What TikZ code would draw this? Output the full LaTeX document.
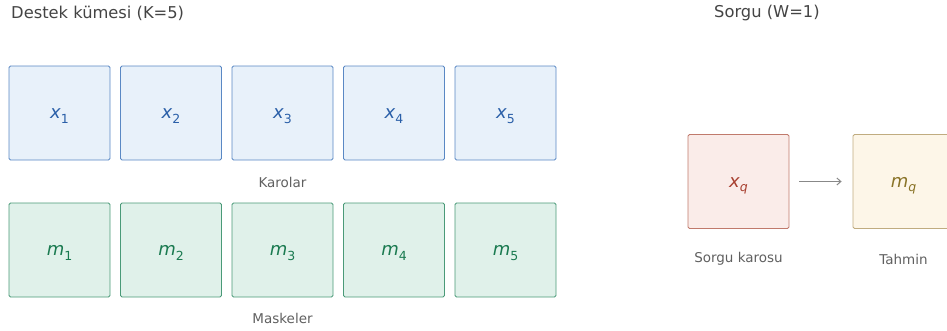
\documentclass[tikz,border=0pt]{standalone}
\usepackage{fontspec}
\setmainfont{DejaVu Sans}
\newfontfamily\obl{DejaVu Sans Oblique}
\usetikzlibrary{arrows.meta}
\definecolor{bfill}{HTML}{E8F1FA}
\definecolor{bdraw}{HTML}{5A88C4}
\definecolor{btext}{HTML}{2A5FA8}
\definecolor{gfill}{HTML}{E0F1EA}
\definecolor{gdraw}{HTML}{4A9A78}
\definecolor{gtext}{HTML}{1A7A50}
\definecolor{rfill}{HTML}{FAECE9}
\definecolor{rdraw}{HTML}{C07A6C}
\definecolor{rtext}{HTML}{A84030}
\definecolor{yfill}{HTML}{FDF6E8}
\definecolor{ydraw}{HTML}{C0AC80}
\definecolor{ytext}{HTML}{8A7428}
\definecolor{lbl}{HTML}{606060}
\definecolor{ttl}{HTML}{444444}
\definecolor{arr}{HTML}{888888}
\newcommand{\tilelab}[2]{\smash{\raisebox{-5.5pt}{{\obl #1}\raisebox{-0.25em}{\fontsize{12.5}{13}\selectfont #2}}}}
\begin{document}
\begin{tikzpicture}[x=1pt,y=-1pt,
  tile/.style={rounded corners=1.5pt,line width=0.8pt,minimum width=101pt,minimum height=94pt,inner sep=0pt,font=\fontsize{18}{18}\selectfont},
  xt/.style={tile,draw=bdraw,fill=bfill,text=btext},
  mt/.style={tile,draw=gdraw,fill=gfill,text=gtext},
  qt/.style={tile,draw=rdraw,fill=rfill,text=rtext},
  pt/.style={tile,draw=ydraw,fill=yfill,text=ytext},
  lab/.style={text=lbl,font=\fontsize{13.5}{14}\selectfont,inner sep=0pt},
  ttlst/.style={text=ttl,font=\fontsize{16.3}{17}\selectfont,inner sep=0pt,anchor=west}]
\useasboundingbox (0,0) rectangle (947,330);
\begin{scope}
\clip (0,0) rectangle (947,330);
\node[ttlst] (t1) at (11,13) {Destek kümesi (K=5)};
\node[ttlst] (t2) at (714,13) {Sorgu (W=1)};
\foreach \i/\x in {1/59.5,2/171,3/282.5,4/394,5/505.5}{
  \node[xt] (x\i) at (\x,113) {\tilelab{x}{\i}};
  \node[mt] (m\i) at (\x,250) {\tilelab{m}{\i}};
}
\node[lab] (kl) at (282.5,182) {Karolar};
\node[lab] (ml) at (282.5,318) {Maskeler};
\node[qt] (xq) at (738.5,181.5) {\tilelab{x}{\obl q}};
\node[pt] (mq) at (903.5,181.5) {\tilelab{m}{\obl q}};
\node[lab] (ql) at (738.5,259) {Sorgu karosu};
\node[lab] (pl) at (903.5,259) {Tahmin};
\draw[draw=arr,line width=1pt,-{Straight Barb[length=4pt,width=7pt]},shorten <=10pt,shorten >=11pt] (xq.east) -- (mq.west);
\end{scope}
\end{tikzpicture}
\end{document}
